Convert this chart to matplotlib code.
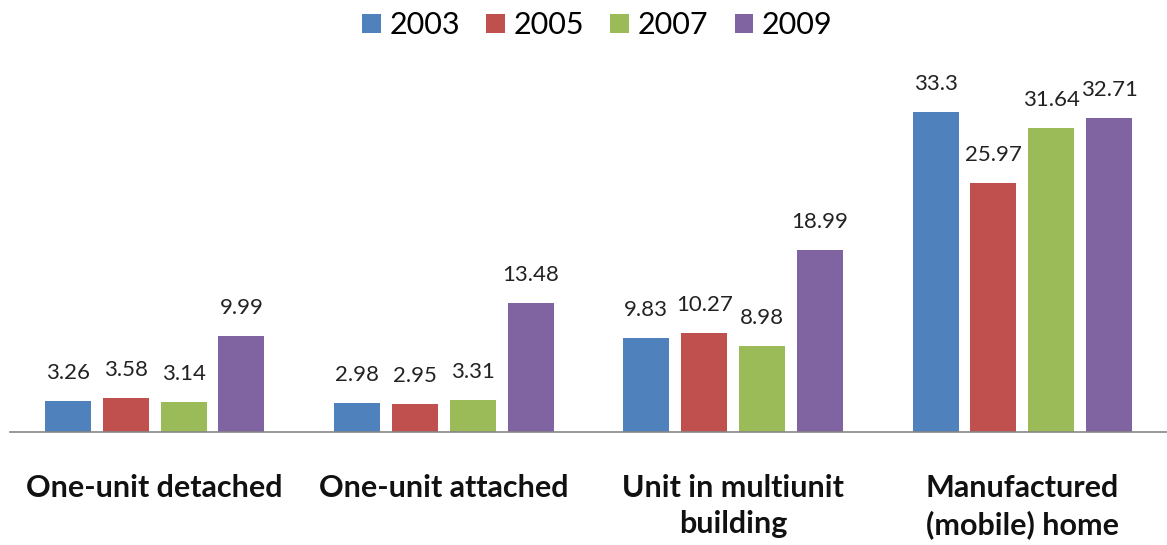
import matplotlib
matplotlib.use("Agg")
import matplotlib.pyplot as plt
import numpy as np

categories = ["One-unit detached", "One-unit attached",
              "Unit in multiunit\nbuilding", "Manufactured\n(mobile) home"]
years = ["2003", "2005", "2007", "2009"]
v2003 = [3.26, 2.98, 9.83, 33.3]
v2005 = [3.58, 2.95, 10.27, 25.97]
v2007 = [3.14, 3.31, 8.98, 31.64]
v2009 = [9.99, 13.48, 18.99, 32.71]
series = [v2003, v2005, v2007, v2009]
colors = ["#4F81BD", "#C0504D", "#9BBB59", "#8064A2"]

plt.rcParams["font.family"] = ["Lato", "DejaVu Sans"]

fig = plt.figure(figsize=(11.67, 5.45), dpi=100)
ax = fig.add_axes([10 / 1167, 1 - 432 / 545, 1157 / 1167, 336 / 545])

x = np.arange(len(categories))
width = 0.159
step = 0.2
for i, (vals, col, yr) in enumerate(zip(series, colors, years)):
    pos = x + (i - 1.5) * step
    bars = ax.bar(pos, vals, width=width, color=col, label=yr)
    for b, v in zip(bars, vals):
        ax.annotate(f"{v:g}", (b.get_x() + b.get_width() / 2, v),
                    xytext=(0, 13), textcoords="offset points",
                    ha="center", va="bottom", fontsize=16, color="#222222")

ax.set_xlim(-0.5, 3.5)
ax.set_ylim(0, 35)
ax.set_yticks([])
for s in ["top", "right", "left"]:
    ax.spines[s].set_visible(False)
ax.spines["bottom"].set_color("#868686")
ax.spines["bottom"].set_linewidth(1.2)
ax.set_xticks(x)
ax.set_xticklabels(categories, fontsize=22, fontweight="bold",
                   color="#111111", linespacing=1.35)
ax.tick_params(axis="x", length=0, pad=30)

fig.legend(loc="upper center", bbox_to_anchor=(0.512, 1.03), ncol=4,
           frameon=False, fontsize=22, handlelength=0.6, handleheight=0.6,
           handletextpad=0.3, columnspacing=0.85)

fig.savefig("out.png", dpi=100)
